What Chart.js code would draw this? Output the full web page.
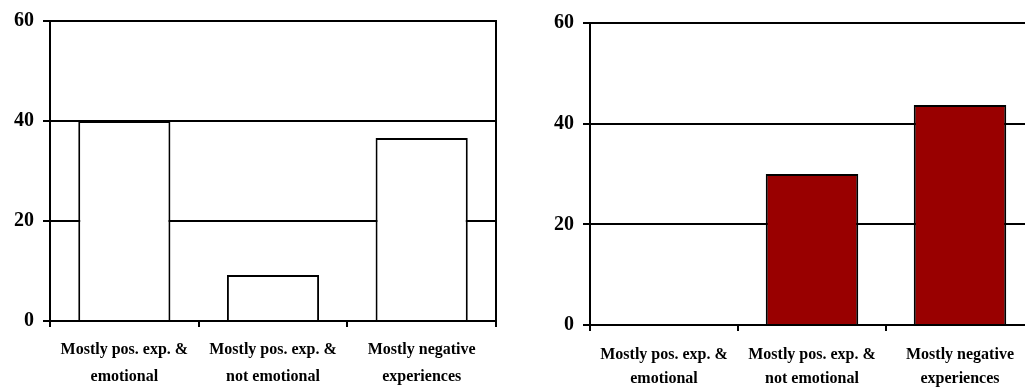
<!DOCTYPE html>
<html>
<head>
<meta charset="utf-8">
<script src="https://cdn.jsdelivr.net/npm/chart.js@4/dist/chart.umd.min.js"></script>
<style>
  html, body { margin: 0; padding: 0; background: #fff; overflow: hidden; width: 1025px; height: 388px; }
  canvas { position: absolute; top: 0; }
  #left { left: 0; }
  #right { left: 520px; }
</style>
</head>
<body>
<canvas id="left" width="520" height="388"></canvas>
<canvas id="right" width="520" height="388"></canvas>
<script>
// Response categories shared by both panels
const categories = [
  ['Mostly pos. exp. &', 'emotional'],
  ['Mostly pos. exp. &', 'not emotional'],
  ['Mostly negative', 'experiences']
];
// Percentages per panel
const leftValues = [40, 9.2, 36.6];
const rightValues = [0, 30, 43.7];
// Value axis
const yMin = 0;
const yMax = 60;
const yStep = 20;

const FONT = '"Liberation Serif", "Times New Roman", serif';

// Outline of the whole plotting area (left panel only)
const frame = {
  id: 'frame',
  afterDraw(chart, args, opts) {
    if (!opts.show) return;
    const a = chart.chartArea;
    const c = chart.ctx;
    c.save();
    c.strokeStyle = '#000';
    c.lineWidth = 2;
    c.strokeRect(a.left, a.top, a.right - a.left, a.bottom - a.top);
    c.restore();
  }
};

function build(id, values, fill, cfg) {
  return new Chart(document.getElementById(id), {
    type: 'bar',
    data: {
      labels: categories,
      datasets: [{
        data: values,
        backgroundColor: fill,
        borderColor: '#000',
        borderWidth: 2,
        borderSkipped: 'start',
        categoryPercentage: 1,
        barPercentage: cfg.bar
      }]
    },
    options: {
      responsive: false,
      animation: false,
      devicePixelRatio: 1,
      layout: { padding: { top: cfg.top, right: cfg.right, left: 0, bottom: 0 } },
      plugins: {
        legend: { display: false },
        tooltip: { enabled: false },
        frame: { show: cfg.frame }
      },
      scales: {
        x: {
          grid: {
            offset: true,
            drawOnChartArea: false,
            drawTicks: true,
            tickLength: 6,
            color: '#000',
            lineWidth: 2
          },
          border: { display: true, color: '#000', width: 2 },
          ticks: {
            color: '#000',
            padding: cfg.xPad,
            maxRotation: 0,
            autoSkip: false,
            font: { family: FONT, size: 16, weight: 'bold', lineHeight: cfg.lh }
          },
          afterFit(scale) { scale.height = cfg.xH; }
        },
        y: {
          min: yMin,
          max: yMax,
          ticks: {
            stepSize: yStep,
            color: '#000',
            padding: 9,
            font: { family: FONT, size: 20, weight: 'bold' }
          },
          grid: {
            color: '#000',
            lineWidth: 2,
            drawTicks: true,
            tickLength: 7
          },
          border: { display: true, color: '#000', width: 2 },
          afterFit(scale) { scale.width = cfg.yW; }
        }
      }
    },
    plugins: [frame]
  });
}

build('left', leftValues, '#ffffff', { top: 19, right: 24, xH: 67, yW: 50, bar: 0.62, frame: true, xPad: 10, lh: 1.65 });
build('right', rightValues, '#990000', { top: 23, right: 6, xH: 63, yW: 70, bar: 0.625, frame: false, xPad: 11, lh: 1.55 });
</script>
</body>
</html>
